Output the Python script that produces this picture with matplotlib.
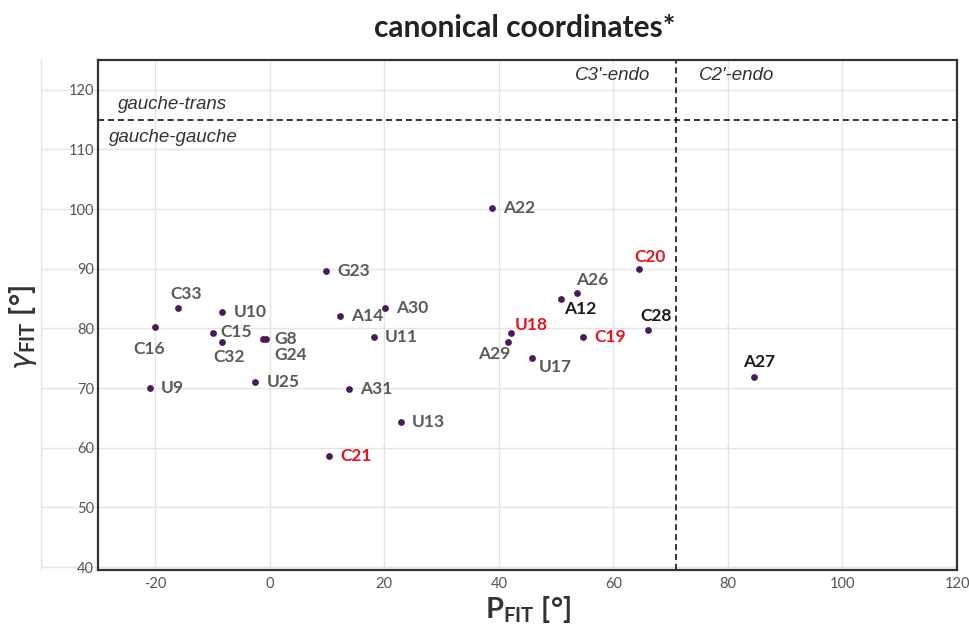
import numpy as np
from matplotlib import pyplot as plt

plt.rcParams['font.family'] = ['Lato', 'DejaVu Sans']
plt.rcParams['axes.unicode_minus'] = False
plt.rcParams['mathtext.fontset'] = 'custom'
plt.rcParams['mathtext.rm'] = 'Lato'
plt.rcParams['mathtext.bf'] = 'Lato:bold'
plt.rcParams['mathtext.it'] = 'DejaVu Sans:italic'

# 数据
names = ['C16', 'C33', 'U9', 'U10', 'C15', 'C32', 'G8', 'G24', 'U25', 'G23',
         'A14', 'A30', 'U11', 'A31', 'U13', 'C21', 'A22', 'A26', 'A12', 'C20',
         'C28', 'U18', 'A29', 'U17', 'C19', 'A27']
p_fit = [-20.0, -16.0, -20.9, -8.3, -9.9, -8.3, -1.2, -0.6, -2.5, 9.8,
         12.3, 20.1, 18.2, 13.9, 22.9, 10.4, 38.8, 53.6, 50.9, 64.5,
         66.0, 42.1, 41.6, 45.8, 54.7, 84.5]
gamma_fit = [80.2, 83.5, 70.0, 82.8, 79.2, 77.7, 78.3, 78.2, 71.0, 89.7,
             82.0, 83.5, 78.5, 69.8, 64.3, 58.6, 100.1, 86.0, 84.9, 90.0,
             79.8, 79.3, 77.7, 75.1, 78.5, 71.8]
red_names = ['C21', 'U18', 'C19', 'C20']
dark_names = ['A12', 'C28', 'A27']

# 标签位置 (偏移, 点)
offsets = {'C16': (-4, -10, 'center', 'top'), 'C33': (6, 4, 'center', 'bottom'),
           'C32': (5, -5, 'center', 'top'), 'G24': (6, -6, 'left', 'top'),
           'A26': (11, 3, 'center', 'bottom'), 'A12': (2, -1, 'left', 'top'),
           'C20': (8, 3, 'center', 'bottom'), 'C28': (6, 4, 'center', 'bottom'),
           'U18': (3, 0, 'left', 'bottom'), 'A29': (-10, -3, 'center', 'top'),
           'U17': (5, -1, 'left', 'top'), 'A27': (4, 5, 'center', 'bottom'),
           'C15': (5, 1, 'left', 'center')}

fig = plt.figure(figsize=(9.7, 6.24), dpi=100)
ax = fig.add_axes([0.101, 0.0865, 0.8856, 0.8175])

ax.set_xlim(-30, 120)
ax.set_ylim(39.5, 125)
ax.set_xticks(np.arange(-20, 121, 20))
ax.set_yticks(np.arange(40, 121, 10))
ax.grid(True, color='#e4e4e4', linewidth=1)
ax.set_axisbelow(True)

ax.tick_params(axis='x', length=0, pad=5, labelsize=10.5, labelcolor='#555555')
ax.tick_params(axis='y', direction='out', length=41, width=1, color='#e4e4e4',
               pad=-38, labelsize=10.5, labelcolor='#555555')
ax.plot([-0.066, -0.066], [0.0, 1.0], transform=ax.transAxes, color='#e4e4e4',
        lw=1, clip_on=False)

for s in ax.spines.values():
    s.set_color('#333333')
    s.set_linewidth(1.6)

ax.axhline(115, color='black', lw=1.1, ls=(0, (4, 2.5)))
ax.axvline(71, color='black', lw=1.1, ls=(0, (4, 2.5)))

ax.scatter(p_fit, gamma_fit, s=24, color='#4a1a5c', zorder=3, linewidths=0)

for n, x, y in zip(names, p_fit, gamma_fit):
    c = '#e8141b' if n in red_names else ('#1a1a1a' if n in dark_names else '#5a5a5a')
    dx, dy, ha, va = offsets.get(n, (8, 0, 'left', 'center'))
    ax.annotate(n, (x, y), xytext=(dx, dy), textcoords='offset points',
                ha=ha, va=va, fontsize=12.5, fontweight='bold', color=c)

it = dict(fontsize=13.5, style='italic', color='#333333', family='Liberation Sans')
ax.text(-26.5, 117.6, 'gauche-trans', ha='left', va='center', **it)
ax.text(-28.0, 112.0, 'gauche-gauche', ha='left', va='center', **it)
ax.text(66.5, 122.4, "C3'-endo", ha='right', va='center', **it)
ax.text(75.0, 122.4, "C2'-endo", ha='left', va='center', **it)

fig.text(0.541, 0.955, 'canonical coordinates*', ha='center', va='center',
         fontsize=21.5, fontweight='bold', color='#222222')
ax.set_xlabel(r'$\mathbf{P_{FIT}}$ [°]', fontsize=21, fontweight='bold',
              color='#333333', labelpad=2)
fig.text(0.024, 0.475, r'$\gamma_{\mathbf{FIT}}$ [°]', rotation=90, ha='center',
         va='center', fontsize=21, fontweight='bold', color='#333333')

fig.savefig('out.png', dpi=100)
